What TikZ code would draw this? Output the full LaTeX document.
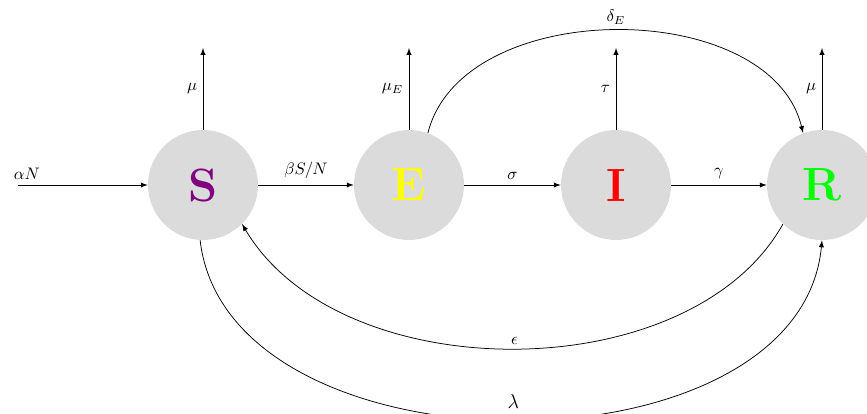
\documentclass[tikz,border=0pt]{standalone}
\usetikzlibrary{arrows}
\definecolor{circgray}{RGB}{219,219,219}
\definecolor{sgreen}{RGB}{0,255,0}
\definecolor{syellow}{RGB}{255,255,0}
\definecolor{spurple}{RGB}{128,0,128}
\begin{document}
\begin{tikzpicture}[x=0.6pt,y=-0.6pt,
  state/.style={circle,fill=circgray,minimum size=66pt,inner sep=0pt,font=\fontsize{28}{30}\selectfont\bfseries},
  flow/.style={-latex,line width=0.45pt}]
\useasboundingbox (0,0) rectangle (867,413);
\node[state,text=spurple] (S) at (203,185) {S};
\node[state,text=syellow] (E) at (409,185) {E};
\node[state,text=red] (I) at (616,185) {I};
\node[state,text=sgreen] (R) at (822,185) {R};
\coordinate (in) at (18,185);
\coordinate (Sout) at (203,48);
\coordinate (Eout) at (409,48);
\coordinate (Iout) at (616,48);
\coordinate (Rout) at (822,48);
\draw[flow] (in) -- node[pos=0,above right,xshift=-6pt] {$\alpha N$} (S);
\draw[flow] (S) -- node[above] {$\beta S/N$} (E);
\draw[flow] (E) -- node[above] {$\sigma$} (I);
\draw[flow] (I) -- node[above] {$\gamma$} (R);
\draw[flow] (S.north) -- node[left] {$\mu$} (Sout);
\draw[flow] (E.north) -- node[left] {$\mu_E$} (Eout);
\draw[flow] (I.north) -- node[left] {$\tau$} (Iout);
\draw[flow] (R.north) -- node[left] {$\mu$} (Rout);
\draw[flow] (E.70) .. controls (462,-4) and (770,-4) .. node[above,pos=0.5] {$\delta_E$} (R.110);
\draw[flow] (R.-135) .. controls (690,390) and (340,390) .. node[above,pos=0.5,inner sep=2pt] {$\epsilon$} (S.-45);
\draw[flow] (S.-93) .. controls (228,480) and (800,480) .. node[pos=0.5,yshift=11pt,inner sep=0.5pt,font=\large] {$\lambda$} (R.-90);
\end{tikzpicture}
\end{document}
